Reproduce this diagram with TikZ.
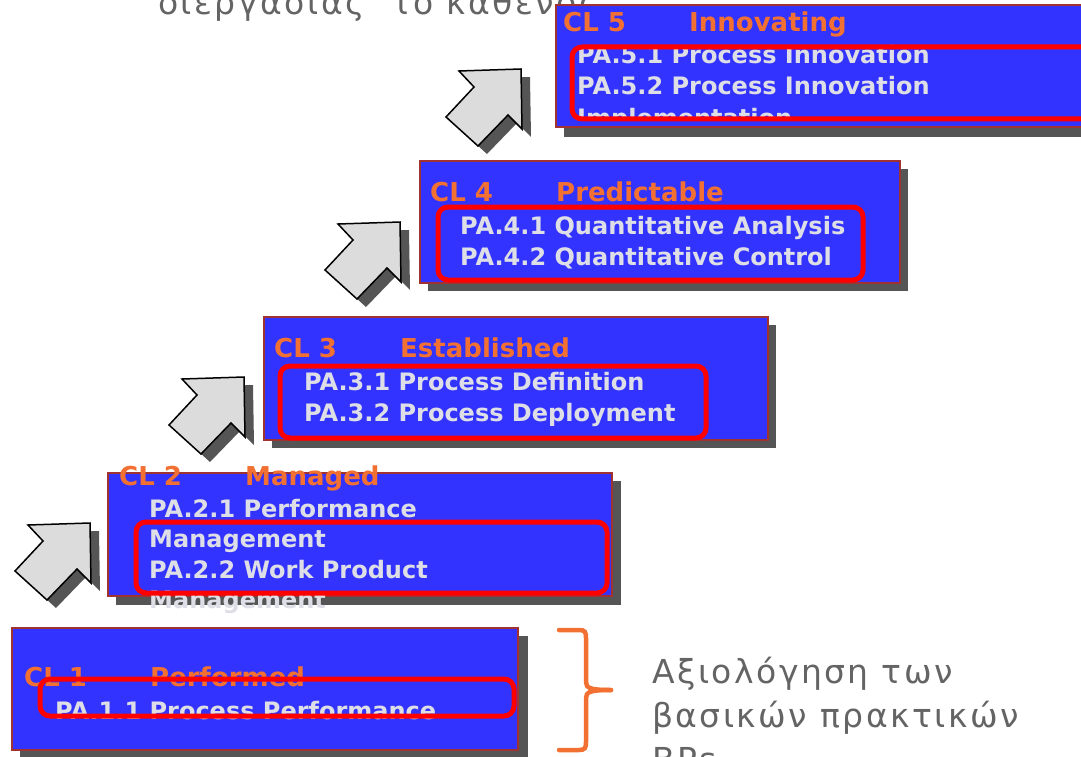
\documentclass[tikz,border=0pt]{standalone}
\usepackage{fontspec}
\setmainfont{DejaVu Sans}
\newfontfamily\notefont[LetterSpace=7.5]{DejaVu Sans}
\usetikzlibrary{positioning}

\definecolor{clblue}{RGB}{51,51,255}
\definecolor{clborder}{RGB}{160,50,50}
\definecolor{clorange}{RGB}{242,112,50}
\definecolor{shadowgray}{RGB}{85,85,85}
\definecolor{patextgray}{RGB}{222,222,230}
\definecolor{arrowgray}{RGB}{220,220,220}
\definecolor{notegray}{RGB}{100,100,100}

\tikzset{
  clbox/.style={draw=clborder,line width=1.5pt,fill=clblue},
  clshadow/.style={fill=shadowgray},
  cltitle/.style={anchor=base west,inner sep=0pt,text=clorange,font=\bfseries\fontsize{26}{26}\selectfont},
  patext/.style={anchor=base west,inner sep=0pt,text=patextgray,font=\bfseries\fontsize{24}{24}\selectfont},
  paframe/.style={draw=red,line width=5pt,rounded corners=10pt},
  stepup/.style={fill=arrowgray,draw=black,line width=1.5pt,line join=miter},
  notetext/.style={anchor=base west,inner sep=0pt,text=notegray,font=\notefont\fontsize{33}{33}\selectfont}
}

\begin{document}
\begin{tikzpicture}[x=1pt,y=-1pt]
\useasboundingbox (0,0) rectangle (1081,757);

% text cut off at the top
\node[notetext] (topnote) at (158,15) {διεργασίας\ \ το καθενός};

% step arrows
\foreach \cx/\cy in {90/523,244/377,400/222,521/69}{
  \begin{scope}[shift={(\cx,\cy)}]
    \fill[shadowgray,shift={(9,8)}] (-62,2) -- (0,0) -- (1,60) -- (-13,46) -- (-43,77) -- (-75,48) -- (-47,18) -- cycle;
    \draw[stepup] (-62,2) -- (0,0) -- (1,60) -- (-13,46) -- (-43,77) -- (-75,48) -- (-47,18) -- cycle;
  \end{scope}
}

% CL 1
\fill[clshadow] (20,636) rectangle (528,760);
\draw[clbox] (12,628) rectangle (518,750);
\node[cltitle] (cl1) at (24,686) {CL 1};
\node[cltitle] (cl1name) at (150,686) {Performed};
\node[patext] (pa11) at (55,719) {PA.1.1 Process Performance};
\draw[paframe] (40,679) rectangle (514,716);

% CL 2
\fill[clshadow] (116,481) rectangle (621,605);
\draw[clbox] (108,473) rectangle (612,596);
\node[cltitle] (cl2) at (119,485) {CL 2};
\node[cltitle] (cl2name) at (245,485) {Managed};
\node[patext] (pa21) at (149,517) {PA.2.1 Performance};
\node[patext] (pa21b) at (149,547) {Management};
\node[patext] (pa22) at (149,578) {PA.2.2 Work Product};
\node[patext] (pa22b) at (149,608) {Management};
\draw[paframe] (136,522) rectangle (607,593);

% CL 3
\fill[clshadow] (272,325) rectangle (776,448);
\draw[clbox] (264,317) rectangle (768,440);
\node[cltitle] (cl3) at (274,357) {CL 3};
\node[cltitle] (cl3name) at (400,357) {Established};
\node[patext] (pa31) at (304,390) {PA.3.1 Process Definition};
\node[patext] (pa32) at (304,421) {PA.3.2 Process Deployment};
\draw[paframe] (280,366) rectangle (706,438);

% CL 4
\fill[clshadow] (428,169) rectangle (908,291);
\draw[clbox] (420,161) rectangle (900,283);
\node[cltitle] (cl4) at (430,201) {CL 4};
\node[cltitle] (cl4name) at (556,201) {Predictable};
\node[patext] (pa41) at (460,234) {PA.4.1 Quantitative Analysis};
\node[patext] (pa42) at (460,265) {PA.4.2 Quantitative Control};
\draw[paframe] (438,207) rectangle (863,280);

% CL 5
\fill[clshadow] (564,13) rectangle (1100,137);
\draw[clbox] (556,5) rectangle (1095,127);
\node[cltitle] (cl5) at (563,32) {CL 5};
\node[cltitle] (cl5name) at (689,32) {Innovating};
\node[patext] (pa51) at (577,64) {PA.5.1 Process Innovation};
\node[patext] (pa52) at (577,95) {PA.5.2 Process Innovation};
\begin{scope}
  \clip (556,100) rectangle (1095,118);
  \node[patext] (pa52b) at (577,127) {Implementation};
\end{scope}
\draw[paframe] (572,47) rectangle (1095,119);

% brace and note
\draw[clorange,line width=4.5pt,line cap=round] (559,630) -- (579,630) .. controls (585,630) and (586,632) .. (586,638) -- (586,682) .. controls (586,688) and (590,690) .. (611,690);
\draw[clorange,line width=4.5pt,line cap=round] (611,690) .. controls (590,690) and (586,692) .. (586,698) -- (586,742) .. controls (586,748) and (585,750) .. (579,750) -- (559,750);
\node[notetext] (note1) at (652,683) {Αξιολόγηση των};
\node[notetext] (note2) at (652,727) {βασικών πρακτικών};
\node[notetext] (note3) at (652,771) {BPs};
\end{tikzpicture}
\end{document}
